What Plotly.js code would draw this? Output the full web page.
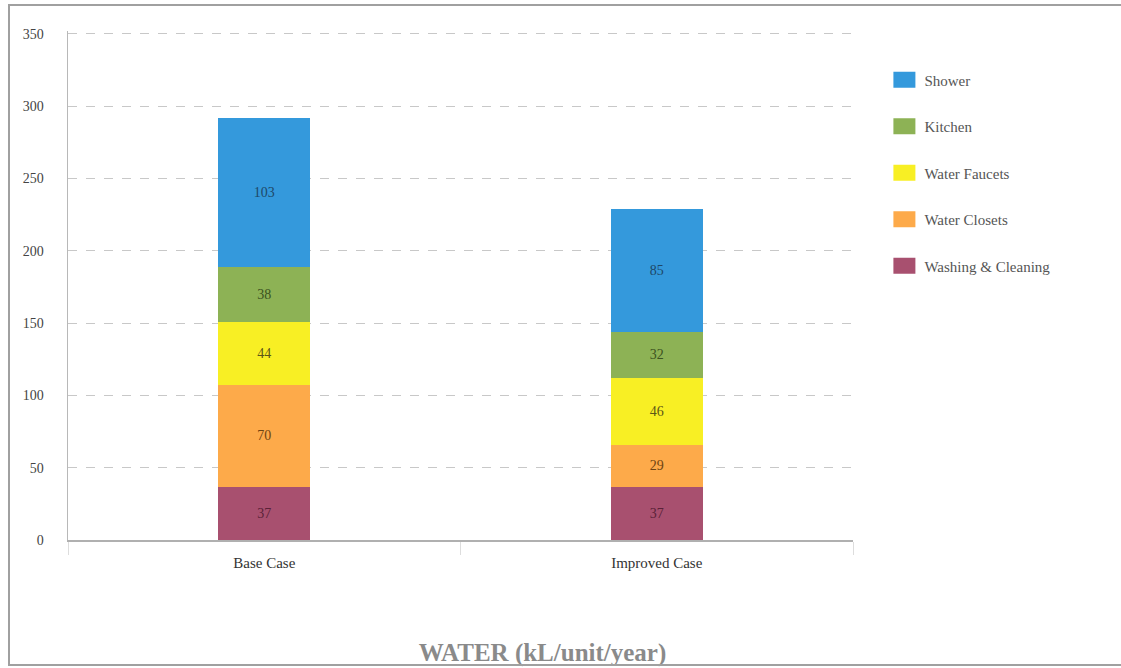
<!DOCTYPE html>
<html>
<head>
<meta charset="utf-8">
<script src="https://cdn.plot.ly/plotly-3.0.1.min.js"></script>
<style>
html,body{margin:0;padding:0;background:#fff;}
#wrap{position:relative;width:1121px;height:668px;}
#chart{width:1121px;height:668px;}
#frame{position:absolute;left:8px;top:4px;width:1113px;height:662px;border:2px solid #a0a0a0;border-right:none;box-sizing:border-box;pointer-events:none;}
</style>
</head>
<body>
<div id="wrap"><div id="chart"></div><div id="frame"></div></div>
<script>
const categories = ["Base Case", "Improved Case"];
const washingCleaning = [37, 37];
const waterClosets = [70, 29];
const waterFaucets = [44, 46];
const kitchen = [38, 32];
const shower = [103, 85];
const yTicks = [0, 50, 100, 150, 200, 250, 300, 350];

const seriesDefs = [
  {name: "Washing & Cleaning", y: washingCleaning, color: "#a8506f", text: "#5a2238"},
  {name: "Water Closets", y: waterClosets, color: "#fdaa4a", text: "#6e4412"},
  {name: "Water Faucets", y: waterFaucets, color: "#f8ef24", text: "#5c5618"},
  {name: "Kitchen", y: kitchen, color: "#8db255", text: "#3c5220"},
  {name: "Shower", y: shower, color: "#3499dc", text: "#1e4868"}
];

const FONT = "'Liberation Serif', 'Times New Roman', serif";

const traces = seriesDefs.map((s, i) => ({
  type: "bar",
  name: s.name,
  x: categories,
  y: s.y,
  legendgroup: "g" + i,
  legendrank: 10 - i,
  marker: {color: s.color, line: {width: 0}},
  text: s.y.map(String),
  textposition: "inside",
  insidetextanchor: "middle",
  textangle: 0,
  textfont: {family: FONT, size: 14, color: s.text},
  hoverinfo: "skip"
}));

const layout = {
  width: 1121,
  height: 668,
  margin: {l: 68, r: 268, t: 31, b: 128},
  paper_bgcolor: "#ffffff",
  plot_bgcolor: "#ffffff",
  barmode: "stack",
  bargap: 0.766,
  font: {family: FONT, size: 13, color: "#444"},
  title: {
    text: "<b>WATER (kL/unit/year)</b>",
    font: {family: FONT, size: 25, color: "#8a8a8a"},
    xref: "container", yref: "container",
    x: 0.484, xanchor: "center",
    y: 0.024, yanchor: "middle"
  },
  xaxis: {
    type: "category",
    showgrid: false,
    showline: true,
    linecolor: "#b0b0b0",
    linewidth: 2,
    ticks: "outside",
    tickson: "boundaries",
    ticklen: 13,
    tickcolor: "#dddddd",
    tickwidth: 1,
    ticklabelstandoff: 8,
    tickfont: {family: FONT, size: 15, color: "#333"},
    zeroline: false,
    fixedrange: true
  },
  yaxis: {
    range: [0, 352],
    tickvals: yTicks,
    ticktext: yTicks.map(String),
    showgrid: true,
    gridcolor: "#c8c8c8",
    griddash: "dash",
    gridwidth: 1.2,
    showline: true,
    linecolor: "#b8b8b8",
    linewidth: 1.5,
    zeroline: false,
    ticks: "",
    ticklabelstandoff: 20,
    tickfont: {family: FONT, size: 14, color: "#444"},
    fixedrange: true
  },
  showlegend: true,
  legend: {
    x: 1.04, xanchor: "left",
    y: 0.936, yanchor: "top",
    traceorder: "grouped",
    tracegroupgap: 24,
    font: {family: FONT, size: 15, color: "#555"},
    bgcolor: "rgba(0,0,0,0)"
  }
};

Plotly.newPlot("chart", traces, layout, {displayModeBar: false, staticPlot: true}).then(gd => {
  gd.querySelectorAll(".legend .legendpoints path").forEach(p => {
    p.setAttribute("d", "M11,8H-11V-8H11Z");
  });
});
</script>
</body>
</html>
